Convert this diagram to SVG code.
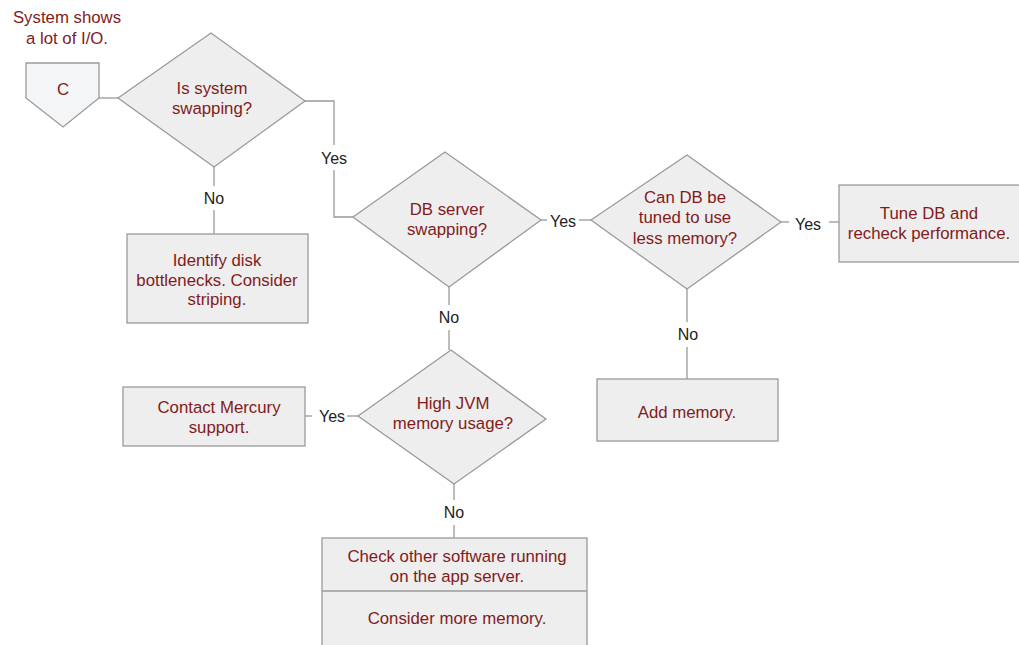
<svg xmlns="http://www.w3.org/2000/svg" width="1019" height="645" viewBox="0 0 1019 645">
  <style>
    .shape { fill: #eeeeee; stroke: #9a9a9a; stroke-width: 1.3; }
    .start { fill: #f3f5f7; stroke: #9a9a9a; stroke-width: 1.3; }
    .line { fill: none; stroke: #9a9a9a; stroke-width: 1.3; }
    .t { font-family: "Liberation Sans", Arial, sans-serif; font-size: 16.8px; fill: #821b1b; text-anchor: middle; }
    .lbl { font-family: "Liberation Sans", Arial, sans-serif; font-size: 16px; fill: #222222; text-anchor: middle; }
  </style>
  <rect width="1019" height="645" fill="#ffffff"/>

  <!-- connectors -->
  <g id="connectors">
    <path class="line" d="M99 98 H118"/>
    <path class="line" d="M305 101 H334 V145"/>
    <path class="line" d="M334 170 V217 H353"/>
    <path class="line" d="M214 167 V186"/>
    <path class="line" d="M214 210 V234"/>
    <path class="line" d="M541 220 H547"/>
    <path class="line" d="M579 220 H591"/>
    <path class="line" d="M781 222 H789"/>
    <path class="line" d="M829 222 H839"/>
    <path class="line" d="M687 289 V322"/>
    <path class="line" d="M687 347 V379"/>
    <path class="line" d="M449 287 V305"/>
    <path class="line" d="M449 330 V350"/>
    <path class="line" d="M305 416 H312"/>
    <path class="line" d="M347 416 H358"/>
    <path class="line" d="M454 484 V500"/>
    <path class="line" d="M454 525 V538"/>
    <text class="lbl" x="334" y="164">Yes</text>
    <text class="lbl" x="214" y="204">No</text>
    <text class="lbl" x="563" y="227">Yes</text>
    <text class="lbl" x="808" y="230">Yes</text>
    <text class="lbl" x="688" y="340">No</text>
    <text class="lbl" x="449" y="323">No</text>
    <text class="lbl" x="332" y="422">Yes</text>
    <text class="lbl" x="454" y="518">No</text>
  </g>

  <g id="note-start">
    <text class="t" x="67" y="23">System shows</text>
    <text class="t" x="67" y="44">a lot of I/O.</text>
  </g>

  <g id="node-c">
    <polygon class="start" points="26,63 99,63 99,98 63,127 26,98"/>
    <text class="t" x="63" y="95">C</text>
  </g>

  <g id="node-swapping">
    <polygon class="shape" points="118,98 211,33 305,101 214,167"/>
    <text class="t" x="212" y="94">Is system</text>
    <text class="t" x="212" y="114">swapping?</text>
  </g>

  <g id="node-disk">
    <rect class="shape" x="127" y="234" width="181" height="89"/>
    <text class="t" x="217" y="266">Identify disk</text>
    <text class="t" x="217" y="286">bottlenecks. Consider</text>
    <text class="t" x="217" y="305">striping.</text>
  </g>

  <g id="node-db-swapping">
    <polygon class="shape" points="353,217 445,152 541,220 449,287"/>
    <text class="t" x="447" y="215">DB server</text>
    <text class="t" x="447" y="235">swapping?</text>
  </g>

  <g id="node-tune-q">
    <polygon class="shape" points="591,220 687,155 781,222 687,289"/>
    <text class="t" x="685" y="203">Can DB be</text>
    <text class="t" x="685" y="223">tuned to use</text>
    <text class="t" x="685" y="244">less memory?</text>
  </g>

  <g id="node-tune">
    <rect class="shape" x="839" y="185" width="181" height="77"/>
    <text class="t" x="929" y="219">Tune DB and</text>
    <text class="t" x="929" y="239">recheck performance.</text>
  </g>

  <g id="node-add-memory">
    <rect class="shape" x="597" y="379" width="181" height="62"/>
    <text class="t" x="687" y="418">Add memory.</text>
  </g>

  <g id="node-jvm">
    <polygon class="shape" points="358,416 451,350 546,419 454,484"/>
    <text class="t" x="453" y="409">High JVM</text>
    <text class="t" x="453" y="429">memory usage?</text>
  </g>

  <g id="node-contact">
    <rect class="shape" x="123" y="387" width="182" height="59"/>
    <text class="t" x="219" y="413">Contact Mercury</text>
    <text class="t" x="219" y="433">support.</text>
  </g>

  <g id="node-check">
    <rect class="shape" x="322" y="538" width="265" height="120"/>
    <line class="line" x1="322" y1="591" x2="587" y2="591"/>
    <text class="t" x="457" y="562">Check other software running</text>
    <text class="t" x="457" y="582">on the app server.</text>
    <text class="t" x="457" y="624">Consider more memory.</text>
  </g>
</svg>
